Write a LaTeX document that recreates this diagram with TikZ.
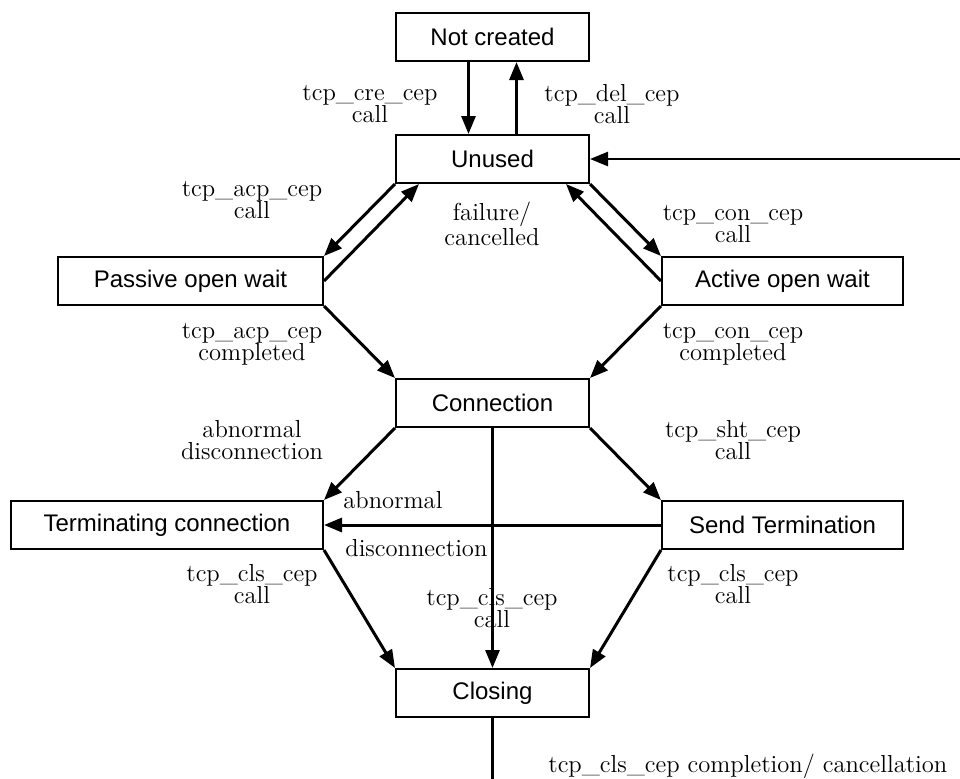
\documentclass[tikz,border=0pt]{standalone}
\usepackage{fontspec}
\setsansfont{Liberation Sans}
\usetikzlibrary{arrows.meta, positioning, calc}

\begin{document}
\begin{tikzpicture}[x=0.5pt, y=-0.5pt,
    state/.style={draw, line width=1pt, minimum width=96.5pt, minimum height=24pt, inner sep=0pt, font=\fontsize{12}{14}\selectfont\sffamily},
    trans/.style={-{Triangle[length=9pt,width=7pt]}, line width=1.5pt},
    lbl/.style={align=center, inner sep=0pt, font=\fontsize{12.3}{11}\selectfont},
    node distance=36pt and 35.5pt
]
    \useasboundingbox (0,0) rectangle (960,778);
    \clip (0,0) rectangle (960,778);

    % States
    \node[state] (unused) at (492.5,159) {Unused};
    \node[state, above=of unused] (notcr) {Not created};
    \node[state, minimum width=132.5pt, below left=of unused] (passive) {Passive open wait};
    \node[state, minimum width=120.5pt, below right=of unused] (active) {Active open wait};
    \node[state, below right=of passive] (conn) {Connection};
    \node[state, minimum width=156pt, below left=of conn] (term) {Terminating connection};
    \node[state, minimum width=120.5pt, below right=of conn] (send) {Send Termination};
    \node[state, below=120pt of conn] (closing) {Closing};

    % Labels
    \node[lbl] (lcre) at (370,104) {tcp\_cre\_cep\\call};
    \node[lbl] (ldel) at (612,104) {tcp\_del\_cep\\call};
    \node[lbl] (lacp) at (252,200) {tcp\_acp\_cep\\call};
    \node[lbl] (lfail) at (492,224) {failure/\\cancelled};
    \node[lbl] (lcon) at (733,224) {tcp\_con\_cep\\call};
    \node[lbl] (lacpdone) at (252,344) {tcp\_acp\_cep\\completed};
    \node[lbl] (lcondone) at (733,344) {tcp\_con\_cep\\completed};
    \node[lbl] (labort) at (252,440) {abnormal\\disconnection};
    \node[lbl] (lsht) at (733,440) {tcp\_sht\_cep\\call};
    \node[lbl, anchor=west] (labn) at (343,500) {abnormal};
    \node[lbl, anchor=west] (ldisc) at (345,548) {disconnection};
    \node[lbl] (lclsleft) at (252,584) {tcp\_cls\_cep\\call};
    \node[lbl] (lclsright) at (733,584) {tcp\_cls\_cep\\call};
    \node[lbl] (lclsmid) at (492,608) {tcp\_cls\_cep\\call};
    \node[lbl, anchor=west] (lend) at (548,766) {tcp\_cls\_cep completion/ cancellation};

    % Transitions
    \draw[trans] ([xshift=-12pt]notcr.south) -- ([xshift=-12pt]unused.north);
    \draw[trans] ([xshift=12pt]unused.north) -- ([xshift=12pt]notcr.south);
    \draw[trans] (unused.south west) -- (passive.north east);
    \draw[trans] (passive.east) -- ([xshift=12pt]unused.south west);
    \draw[trans] (unused.south east) -- (active.north west);
    \draw[trans] (active.west) -- ([xshift=-12pt]unused.south east);
    \draw[trans] (passive.south east) -- (conn.north west);
    \draw[trans] (active.south west) -- (conn.north east);
    \draw[trans] (conn.south west) -- (term.north east);
    \draw[trans] (conn.south east) -- (send.north west);
    \draw[trans] (conn.south) -- (closing.north);
    \draw[trans] (send.west) -- (term.east);
    \draw[trans] (term.south east) -- (closing.north west);
    \draw[trans] (send.south west) -- (closing.north east);

    % Back to unused
    \coordinate (back) at (1000,800);
    \draw[trans, line width=1.25pt] (closing.south) |- (back) |- (unused.east);
\end{tikzpicture}
\end{document}
